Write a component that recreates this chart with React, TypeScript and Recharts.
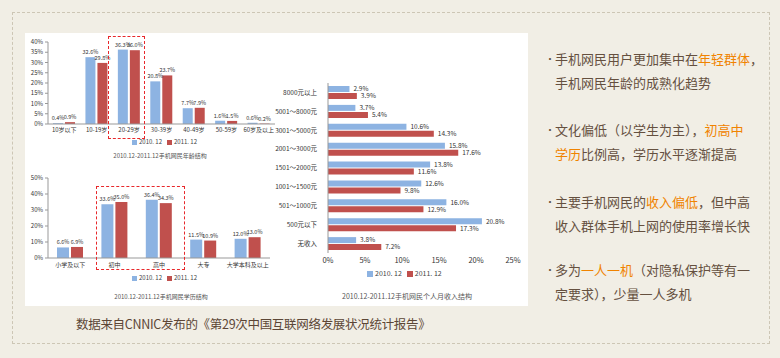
import React from 'react';
import { BarChart, Bar, XAxis, YAxis, LabelList } from 'recharts';

const ageCats = ['10岁以下', '10-19岁', '20-29岁', '30-39岁', '40-49岁', '50-59岁', '60岁及以上'];
const age2010 = [0.4, 32.6, 36.3, 20.8, 7.7, 1.6, 0.6];
const age2011 = [0.9, 29.8, 36.0, 23.7, 7.9, 1.5, 0.2];
const ageTicks = [0, 5, 10, 15, 20, 25, 30, 35, 40];

const eduCats = ['小学及以下', '初中', '高中', '大专', '大学本科及以上'];
const edu2010 = [6.6, 33.6, 36.4, 11.5, 12.0];
const edu2011 = [6.9, 35.0, 34.3, 10.9, 13.0];
const eduTicks = [0, 10, 20, 30, 40, 50];

const incCats = ['8000元以上', '5001～8000元', '3001～5000元', '2001～3000元', '1501～2000元', '1001～1500元', '501～1000元', '500元以下', '无收入'];
const inc2010 = [2.9, 3.7, 10.6, 15.8, 13.8, 12.6, 16.0, 20.8, 3.8];
const inc2011 = [3.9, 5.4, 14.3, 17.6, 11.6, 9.8, 12.9, 17.3, 7.2];
const incTicks = [0, 5, 10, 15, 20, 25];

const seriesNames = ['2010. 12', '2011. 12'];

const BLUE = '#8db3e2';
const RED = '#c0504d';
const FONT = '"Noto Sans CJK SC", "Noto Sans", sans-serif';
const BROWN = '#65503f';
const ORANGE = '#f08300';

const toRows = (cats: string[], a: number[], b: number[]) =>
  cats.map((name, i) => ({ name, a: a[i], b: b[i] }));

const ageData = toRows(ageCats, age2010, age2011);
const eduData = toRows(eduCats, edu2010, edu2011);
const incData = toRows(incCats, inc2010, inc2011);

const pct = (v: any) => v.toFixed(1) + '%';

function MiniLegend({ left, top, size }: { left: number; top: number; size: number }) {
  return (
    <div style={{ position: 'absolute', left, top, display: 'flex', alignItems: 'center', fontSize: size, color: '#444', fontFamily: FONT, whiteSpace: 'nowrap', lineHeight: 1 }}>
      <span style={{ width: size - 1, height: size - 1, background: BLUE, display: 'inline-block', marginRight: 2 }} />
      <span style={{ marginRight: 5 }}>{seriesNames[0]}</span>
      <span style={{ width: size - 1, height: size - 1, background: RED, display: 'inline-block', marginRight: 2 }} />
      <span>{seriesNames[1]}</span>
    </div>
  );
}

function Caption({ cx, top, size, text }: { cx: number; top: number; size: number; text: string }) {
  return (
    <div style={{ position: 'absolute', left: cx - 150, width: 300, top, textAlign: 'center', fontSize: size, color: '#555', fontFamily: FONT, lineHeight: 1 }}>
      {text}
    </div>
  );
}

function DashBox({ x, y, w, h }: { x: number; y: number; w: number; h: number }) {
  return <div style={{ position: 'absolute', left: x, top: y, width: w, height: h, border: '1.5px dashed #e8282b', boxSizing: 'border-box' }} />;
}

const bullets: { lines: [string, boolean][][]; top: number }[] = [
  { top: 47, lines: [[['手机网民用户更加集中在', false], ['年轻群体', true], ['，', false]], [['手机网民年龄的成熟化趋势', false]]] },
  { top: 118, lines: [[['文化偏低（以学生为主），', false], ['初高中', true]], [['学历', true], ['比例高，学历水平逐渐提高', false]]] },
  { top: 190, lines: [[['主要手机网民的', false], ['收入偏低', true], ['，但中高', false]], [['收入群体手机上网的使用率增长快', false]]] },
  { top: 258, lines: [[['多为', false], ['一人一机', true], ['（对隐私保护等有一', false]], [['定要求），少量一人多机', false]]] },
];

export default function App() {
  const axisTick = { fontSize: 6, fill: '#333', fontFamily: FONT };
  const lbl = { fontSize: 5.5, fill: '#333', fontFamily: FONT };
  const incLbl = { fontSize: 6.5, fill: '#333', fontFamily: FONT };
  return (
    <div style={{ position: 'absolute', left: 0, top: 0, width: 780, height: 358, background: '#f1eee5', overflow: 'hidden', fontFamily: FONT }}>
      <div style={{ position: 'absolute', left: 12, top: 12, width: 758, height: 332, border: '1px dashed #cdc6b5', boxSizing: 'border-box' }} />
      <div style={{ position: 'absolute', left: 25, top: 33, width: 503, height: 273, background: '#fff' }} />

      {/* age chart */}
      <div style={{ position: 'absolute', left: 0, top: 0 }}>
        <BarChart width={290} height={165} data={ageData} margin={{ top: 42, right: 15, bottom: 27, left: 0 }} barGap={2} barSize={10}>
          <XAxis dataKey="name" interval={0} tick={axisTick} tickLine={false} tickSize={2} axisLine={{ stroke: '#999' }} height={14} tickMargin={2} />
          <YAxis domain={[0, 40]} ticks={ageTicks} tickFormatter={(v) => v + '%'} tick={axisTick} tickSize={3} axisLine={{ stroke: '#999' }} tickLine={{ stroke: '#999' }} width={48} interval={0} />
          <Bar dataKey="a" fill={BLUE} isAnimationActive={false}>
            <LabelList dataKey="a" position="top" formatter={pct} style={lbl} offset={3} />
          </Bar>
          <Bar dataKey="b" fill={RED} isAnimationActive={false}>
            <LabelList dataKey="b" position="top" formatter={pct} style={lbl} offset={3} />
          </Bar>
        </BarChart>
      </div>
      <DashBox x={108} y={36} w={37} h={103} />
      <MiniLegend left={132} top={139} size={6} />
      <Caption cx={160} top={153} size={6} text="2010.12-2011.12手机网民年龄结构" />

      {/* education chart */}
      <div style={{ position: 'absolute', left: 0, top: 140 }}>
        <BarChart width={290} height={150} data={eduData} margin={{ top: 38, right: 20, bottom: 18, left: 0 }} barGap={2} barSize={12}>
          <XAxis dataKey="name" interval={0} tick={axisTick} tickLine={false} tickSize={3} axisLine={{ stroke: '#999' }} height={14} tickMargin={2} />
          <YAxis domain={[0, 50]} ticks={eduTicks} tickFormatter={(v) => v + '%'} tick={axisTick} tickSize={3} axisLine={{ stroke: '#999' }} tickLine={{ stroke: '#999' }} width={48} interval={0} />
          <Bar dataKey="a" fill={BLUE} isAnimationActive={false}>
            <LabelList dataKey="a" position="top" formatter={pct} style={lbl} offset={3} />
          </Bar>
          <Bar dataKey="b" fill={RED} isAnimationActive={false}>
            <LabelList dataKey="b" position="top" formatter={pct} style={lbl} offset={3} />
          </Bar>
        </BarChart>
      </div>
      <DashBox x={96} y={186} w={89} h={84} />
      <MiniLegend left={132} top={275} size={6} />
      <Caption cx={161} top={294} size={6} text="2010.12-2011.12手机网民学历结构" />

      {/* income chart */}
      <div style={{ position: 'absolute', left: 270, top: 60 }}>
        <BarChart layout="vertical" width={260} height={215} data={incData} margin={{ top: 23, right: 17, bottom: 8, left: 0 }} barGap={1} barSize={6}>
          <XAxis type="number" domain={[0, 25]} ticks={incTicks} tickFormatter={(v) => v + '%'} tick={{ fontSize: 7.5, fill: '#333', fontFamily: FONT }} tickLine={false} axisLine={false} height={14} interval={0} tickSize={2} tickMargin={3} />
          <YAxis type="category" dataKey="name" interval={0} tick={{ fontSize: 6.5, fill: '#333', fontFamily: FONT }} tickLine={false} axisLine={{ stroke: '#999' }} width={58} tickMargin={5} />
          <Bar dataKey="a" fill={BLUE} isAnimationActive={false}>
            <LabelList dataKey="a" position="right" formatter={pct} style={incLbl} offset={4} />
          </Bar>
          <Bar dataKey="b" fill={RED} isAnimationActive={false}>
            <LabelList dataKey="b" position="right" formatter={pct} style={incLbl} offset={4} />
          </Bar>
        </BarChart>
      </div>
      <MiniLegend left={367} top={270} size={7} />
      <Caption cx={407} top={293} size={7} text="2010.12-2011.12手机网民个人月收入结构" />

      {/* bullets */}
      {bullets.map((b, i) => (
        <div key={i} style={{ position: 'absolute', left: 545, top: b.top, width: 225, fontSize: 13, lineHeight: '24px', color: BROWN, whiteSpace: 'nowrap' }}>
          <span style={{ position: 'absolute', left: 0, top: 0, fontSize: 10 }}>•</span>
          {b.lines.map((line, k) => (
            <div key={k} style={{ paddingLeft: 10 }}>
              {line.map(([t, hi], j) => (
                <span key={j} style={{ color: hi ? ORANGE : BROWN }}>{t}</span>
              ))}
            </div>
          ))}
        </div>
      ))}

      <div style={{ position: 'absolute', left: 76, top: 315, fontSize: 12.5, color: '#5c4636', whiteSpace: 'nowrap', lineHeight: '18px', letterSpacing: -0.3 }}>
        数据来自CNNIC发布的《第29次中国互联网络发展状况统计报告》
      </div>
    </div>
  );
}
